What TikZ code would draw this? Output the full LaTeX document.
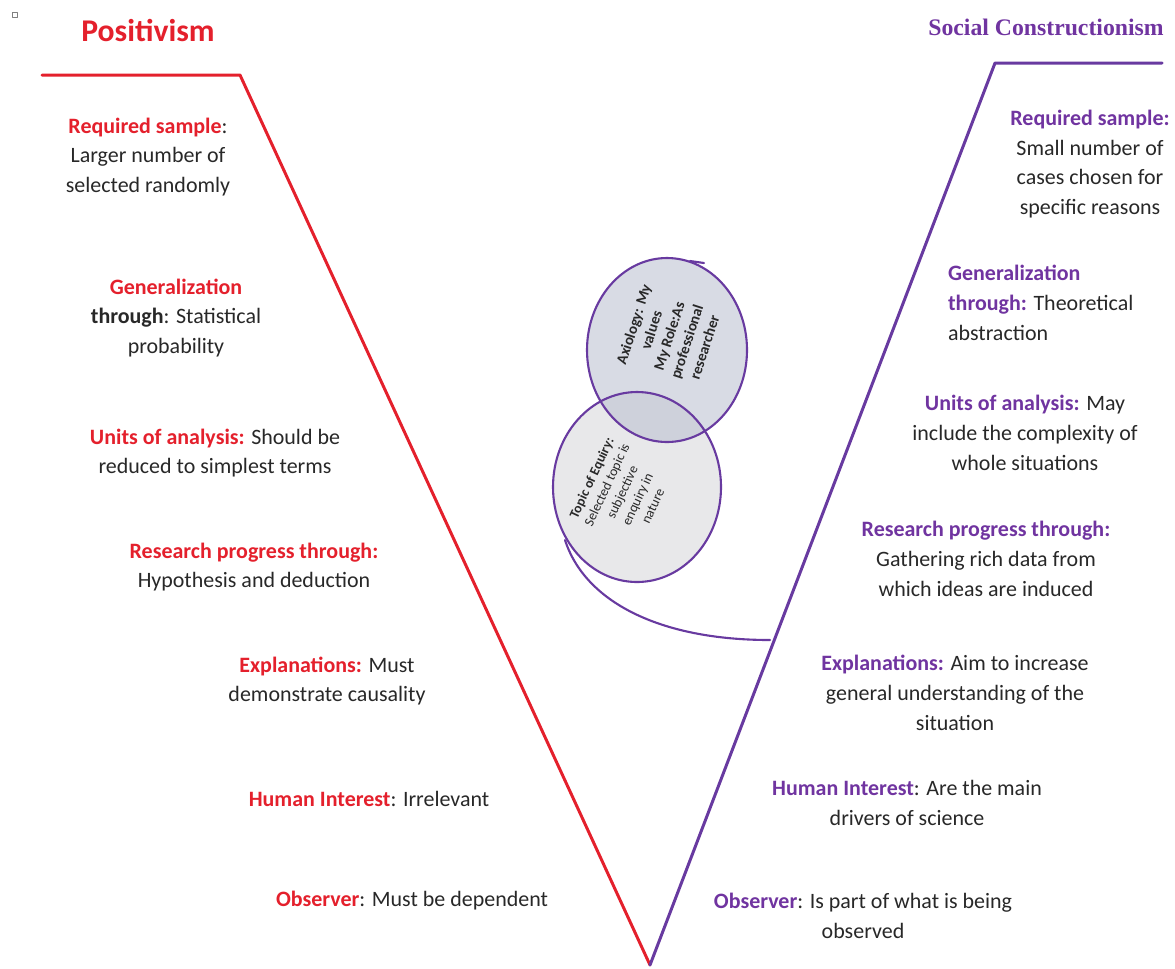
\documentclass[tikz,border=0pt]{standalone}
\usepackage{fontspec}
\setmainfont{Carlito}
\newfontfamily\headserif{Liberation Serif}
\usepackage{xcolor}
\usetikzlibrary{positioning}
\definecolor{posred}{RGB}{228,32,44}
\definecolor{scpurple}{RGB}{112,52,160}
\definecolor{scline}{RGB}{104,58,160}
\definecolor{bodytxt}{RGB}{40,40,40}
\definecolor{axfill}{RGB}{190,195,210}
\definecolor{topfill}{RGB}{232,232,234}
\newcommand{\pkey}[1]{\textcolor{posred}{\textbf{#1}}}
\newcommand{\skey}[1]{\textcolor{scpurple}{\textbf{#1}}}

\begin{document}
\begin{tikzpicture}[line cap=round, line join=round, x=0.02cm, y=-0.02cm,
    lbl/.style={align=center, text=bodytxt, inner sep=1pt, font=\fontsize{12.5}{17}\selectfont},
    bubtxt/.style={align=center, text=bodytxt, inner sep=0pt}]
  \useasboundingbox (0,0) rectangle (1175,968);
  %--- stray mark
    \draw[gray, thin] (12,12) rectangle ++(5,5);
  %--- Titles
    \node[font=\fontsize{18}{20}\selectfont\bfseries, text=posred] (poshead) at (148,30) {Positivism};
    \node[font=\fontsize{13.5}{15}\selectfont\headserif\bfseries, text=scpurple] (schead) at (1046,27) {Social Constructionism};
  %--- The V
    \coordinate (redL) at (42,75);
    \coordinate (redK) at (240,75);
    \coordinate (tip) at (650,965);
    \coordinate (purK) at (995,63);
    \coordinate (purR) at (1162,63);
    \draw[posred, line width=1.7pt] (redL) -- (redK) -- (tip);
    \draw[scline, line width=1.7pt] (tip) -- (purK) -- (purR);
  %--- Circles
    \fill[topfill] (637,487) ellipse (84 and 95);
    \fill[axfill, fill opacity=0.6] (667,350) ellipse (80 and 92);
    \draw[scline, line width=1.2pt] (667,350) ellipse (80 and 92);
    \draw[scline, line width=1.2pt] (637,487) ellipse (84 and 95);
    \draw[scline, line width=1.2pt] (690,261) -- (704,263);
    \coordinate (tailS) at (565,540);
    \coordinate (tailE) at (770,640);
    \draw[scline, line width=1.2pt] (tailS) .. controls (585,602) and (660,640) .. (tailE);
    \node[bubtxt, font=\fontsize{8.6}{10.6}\selectfont\bfseries, rotate=72] (axio) at (669,336)
      {Axiology: My\\values\\My Role:As\\professional\\researcher};
    \node[bubtxt, font=\fontsize{7.8}{9.6}\selectfont, rotate=65] (topic) at (622,492)
      {\textbf{Topic of Equiry:}\\Selected topic is\\subjective\\enquiry in\\nature};
  %--- Positivism side
    \node[lbl] (preq) at (148,157) {\pkey{Required sample}:\\Larger number of\\selected randomly};
    \node[lbl] (pgen) at (176,318) {\pkey{Generalization}\\\textbf{through}: Statistical\\probability};
    \node[lbl] (punit) at (215,453) {\pkey{Units of analysis:} Should be\\reduced to simplest terms};
    \node[lbl] (pres) at (254,567) {\pkey{Research progress through:}\\Hypothesis and deduction};
    \node[lbl] (pexp) at (327,681) {\pkey{Explanations:} Must\\demonstrate causality};
    \node[lbl] (phum) at (369,799) {\pkey{Human Interest}: Irrelevant};
    \node[lbl] (pobs) at (412,901) {\pkey{Observer}: Must be dependent};
  %--- Social constructionism side
    \node[lbl] (sreq) at (1090,164) {\skey{Required sample:}\\Small number of\\cases chosen for\\specific reasons};
    \node[lbl, align=left, anchor=west] (sgen) at (946,303) {\skey{Generalization}\\\skey{through:} Theoretical\\abstraction};
    \node[lbl] (sunit) at (1025,433) {\skey{Units of analysis:} May\\include the complexity of\\whole situations};
    \node[lbl] (sres) at (986,559) {\skey{Research progress through:}\\Gathering rich data from\\which ideas are induced};
    \node[lbl] (sexp) at (955,693) {\skey{Explanations:} Aim to increase\\general understanding of the\\situation};
    \node[lbl] (shum) at (907,803) {\skey{Human Interest}: Are the main\\drivers of science};
    \node[lbl] (sobs) at (863,916) {\skey{Observer}: Is part of what is being\\observed};
\end{tikzpicture}
\end{document}
